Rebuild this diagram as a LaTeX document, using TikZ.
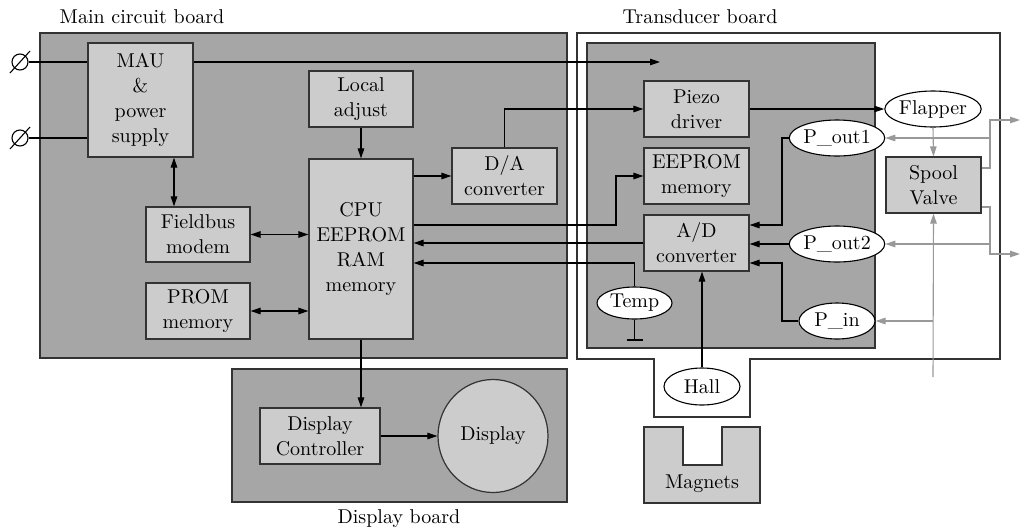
\documentclass[tikz,border=0pt]{standalone}
\usepackage{fontspec}
\setmainfont{lmroman10-regular.otf}
\usetikzlibrary{arrows.meta,calc,shapes.geometric}
\definecolor{boardgray}{HTML}{A6A6A6}
\definecolor{boxgray}{HTML}{CCCCCC}
\definecolor{linegray}{HTML}{999999}
\definecolor{edge}{HTML}{333333}
\begin{document}
\begin{tikzpicture}[x=1pt,y=-1pt,
  font=\fontsize{20}{25}\selectfont,
  board/.style={draw=edge, line width=1.2pt, fill=boardgray},
  box/.style={draw=edge, line width=1.2pt, fill=boxgray, align=center, inner sep=0pt},
  oval/.style={draw=black, line width=1.1pt, fill=white, ellipse, inner sep=0pt},
  conn/.style={line width=1.1pt, black},
  gconn/.style={line width=1.1pt, linegray},
  >={Triangle[length=10pt,width=6.5pt]}
]
\useasboundingbox (0,0) rectangle (1022,531);
% boards
\path[board] (40,33) rectangle (567,358);
\path[board] (232,369) rectangle (567,502);
\path[draw=edge, line width=1.2pt, fill=white] (577,33) -- (1000,33) -- (1000,359) -- (750,359) -- (750,417) -- (654,417) -- (654,359) -- (577,359) -- cycle;
\path[board] (587,43) rectangle (875,348);
\path[draw=edge, line width=1.2pt, fill=boxgray] (644,427) -- (683,427) -- (683,465) -- (722,465) -- (722,427) -- (760,427) -- (760,503) -- (644,503) -- cycle;
\node (magtxt) at (702,484) {Magnets};
% titles
\node (t-main) at (142,17) {Main circuit board};
\node (t-trans) at (700,17) {Transducer board};
\node (t-disp) at (399,519) {Display board};
% terminals
\node[draw=black, line width=1.1pt, circle, minimum size=16pt, inner sep=0pt] (term1) at (20,62) {};
\node[draw=black, line width=1.1pt, circle, minimum size=16pt, inner sep=0pt] (term2) at (20,138) {};
\draw[conn] ($(term1.center)+(-10,11)$) -- ($(term1.center)+(10,-11)$);
\draw[conn] ($(term2.center)+(-10,11)$) -- ($(term2.center)+(10,-11)$);
% main board boxes
\node[box, minimum width=105pt, minimum height=114pt] (mau) at (140.5,100) {MAU\\\&\\power\\supply};
\node[box, minimum width=104pt, minimum height=56pt] (local) at (361,99) {Local\\adjust};
\node[box, minimum width=104pt, minimum height=180pt] (cpu) at (361,249) {CPU\\EEPROM\\RAM\\memory};
\node[box, minimum width=104pt, minimum height=55pt] (fb) at (198,234.5) {Fieldbus\\modem};
\node[box, minimum width=104pt, minimum height=56pt] (prom) at (198,311) {PROM\\memory};
\node[box, minimum width=105pt, minimum height=56pt] (da) at (504.5,176) {D/A\\converter};
% transducer board
\node[box, minimum width=105pt, minimum height=56pt] (piezo) at (696.5,109) {Piezo\\driver};
\node[box, minimum width=105pt, minimum height=56pt] (eep) at (696.5,176) {EEPROM\\memory};
\node[box, minimum width=105pt, minimum height=56pt] (ad) at (696.5,243) {A/D\\converter};
\node[box, minimum width=95pt, minimum height=56pt] (spool) at (933.5,185) {Spool\\Valve};
\node[oval, minimum width=76pt, minimum height=36pt] (flap) at (933,109) {Flapper};
\node[oval, minimum width=76pt, minimum height=36pt] (po1) at (837,138) {P\_out1};
\node[oval, minimum width=76pt, minimum height=36pt] (po2) at (837,244) {P\_out2};
\node[oval, minimum width=76pt, minimum height=36pt] (pin) at (837,321) {P\_in};
\node[oval, minimum width=75pt, minimum height=32pt] (temp) at (634.5,303) {Temp};
\node[oval, minimum width=76pt, minimum height=37pt] (hall) at (702,386.5) {Hall};
% display board
\node[box, minimum width=120pt, minimum height=56pt] (dc) at (320,436) {Display\\Controller};
\node[draw=edge, line width=1.2pt, fill=boxgray, ellipse, minimum width=110pt, minimum height=113pt, inner sep=0pt] (disp) at (493,436) {Display};
% coordinates
\coordinate (fbx) at (174,0);
\coordinate (pend) at (660,62);
\coordinate (j1) at (616,225);
\coordinate (ty) at (0,263);
\coordinate (gnd) at (634.5,340);
\coordinate (k1) at (782,225);
\coordinate (k2) at (782,263);
\coordinate (g1) at (990,120);
\coordinate (g2) at (990,254);
\coordinate (gout1) at (1020,120);
\coordinate (gout2) at (1020,254);
\coordinate (su) at (0,168);
\coordinate (sl) at (0,207);
\coordinate (gbot) at (933,377);
% black connectors
\draw[conn] (term1.east) -- (term1 -| mau.west);
\draw[conn] (term2.east) -- (term2 -| mau.west);
\draw[conn,->] (term1 -| mau.east) -- (pend);
\draw[conn,<->] (mau.south -| fbx) -- (fb.north -| fbx);
\draw[conn,<->] (fb.east) -- (fb.east -| cpu.west);
\draw[conn,<->] (prom.east) -- (prom.east -| cpu.west);
\draw[conn,->] (local.south) -- (cpu.north);
\draw[conn,->] (da.west -| cpu.east) -- (da.west);
\draw[conn,->] (da.north) |- (piezo.west);
\draw[conn,->] (j1 -| cpu.east) -- (j1) |- (eep.west);
\draw[conn,->] (ad.west) -- (ad.west -| cpu.east);
\draw[conn,->] (temp.north) |- (ty -| cpu.east);
\draw[conn] (temp.south) -- (gnd);
\draw[conn] ($(gnd)+(-8,0)$) -- ($(gnd)+(8,0)$);
\draw[conn,->] (hall.north) -- (hall.north |- ad.south);
\draw[conn,->] (po1.west) -| (k1) -- (k1 -| ad.east);
\draw[conn,->] (po2.west) -- (po2.west -| ad.east);
\draw[conn,->] (pin.west) -| (k2) -- (k2 -| ad.east);
\draw[conn,->] (piezo.east) -- (flap.west);
\draw[conn,->] (cpu.south) -- (cpu.south |- dc.north);
\draw[conn,->] (dc.east) -- (disp.west);
% gray connectors
\draw[gconn,->] (flap.south) -- (spool.north);
\draw[gconn,->] (su -| spool.east) -| (g1) -- (gout1);
\draw[gconn,->] (g1 |- po1) -- (po1.east);
\draw[gconn,->] (sl -| spool.east) -| (g2) -- (gout2);
\draw[gconn,->] (g1 |- po2) -- (po2.east);
\draw[gconn,->] (gbot) -- (spool.south);
\draw[gconn,->] (gbot |- pin) -- (pin.east);
\end{tikzpicture}
\end{document}
